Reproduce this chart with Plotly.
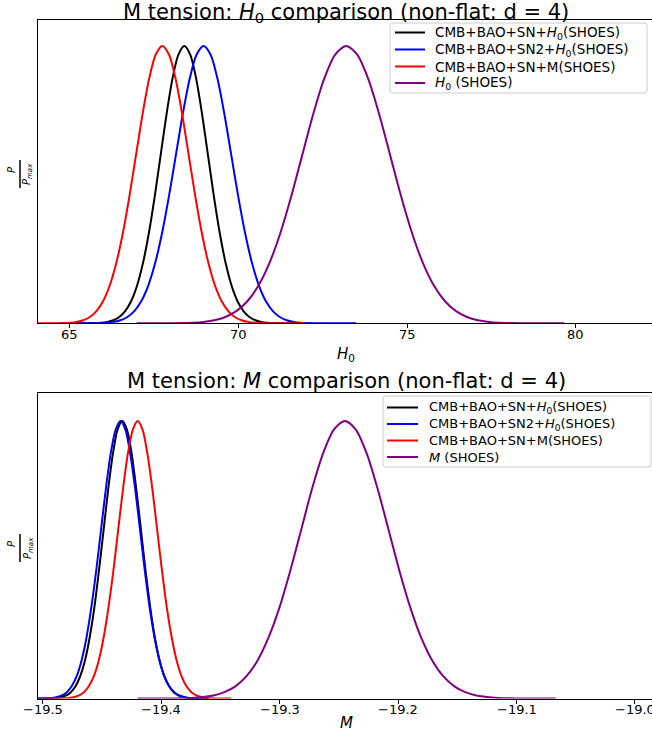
import plotly.graph_objects as go

# ---------------- data ----------------
# normalised density values P/Pmax (same sampling positions in sigma units)
p_black_top = [0, 0.0003, 0.0009, 0.0022, 0.0051, 0.0111, 0.0228, 0.0439, 0.0796, 0.1353, 0.2163, 0.3247,
               0.4578, 0.6065, 0.7548, 0.8825, 0.9692, 1.0, 0.9692, 0.8825, 0.7548, 0.6065, 0.4578, 0.3247,
               0.2163, 0.1353, 0.0796, 0.0439, 0.0228, 0.0111, 0.0051, 0.0022, 0.0009, 0.0003, 0]
p_blue_top = list(p_black_top)
p_red_top = list(p_black_top)
p_shoes_top = list(p_black_top)
p_black_bot = list(p_black_top)
p_blue_bot = list(p_black_top)
p_red_bot = list(p_black_top)
p_shoes_bot = list(p_black_top)

# Top panel: H0
h0_black_x = [65.0, 65.61, 65.785, 65.96, 66.135, 66.31, 66.485, 66.66, 66.835, 67.01, 67.185, 67.36,
              67.535, 67.71, 67.885, 68.06, 68.235, 68.41, 68.585, 68.76, 68.935, 69.11, 69.285, 69.46,
              69.635, 69.81, 69.985, 70.16, 70.335, 70.51, 70.685, 70.86, 71.035, 71.21, 71.7]
h0_blue_x = [65.0, 65.70, 65.905, 66.11, 66.315, 66.52, 66.725, 66.93, 67.135, 67.34, 67.545, 67.75,
             67.955, 68.16, 68.365, 68.57, 68.775, 68.98, 69.185, 69.39, 69.595, 69.80, 70.005, 70.21,
             70.415, 70.62, 70.825, 71.03, 71.235, 71.44, 71.645, 71.85, 72.055, 72.26, 73.5]
h0_red_x = [63.5, 64.64, 64.835, 65.03, 65.225, 65.42, 65.615, 65.81, 66.005, 66.20, 66.395, 66.59,
            66.785, 66.98, 67.175, 67.37, 67.565, 67.76, 67.955, 68.15, 68.345, 68.54, 68.735, 68.93,
            69.125, 69.32, 69.515, 69.71, 69.905, 70.10, 70.295, 70.49, 70.685, 70.88, 72.0]
h0_shoes_x = [67.0, 68.0, 68.325, 68.65, 68.975, 69.3, 69.625, 69.95, 70.275, 70.6, 70.925, 71.25,
              71.575, 71.9, 72.225, 72.55, 72.875, 73.2, 73.525, 73.85, 74.175, 74.5, 74.825, 75.15,
              75.475, 75.8, 76.125, 76.45, 76.775, 77.1, 77.425, 77.75, 78.075, 78.4, 79.65]

# Bottom panel: M
m_black_x = [-19.52, -19.4962, -19.4923, -19.4883, -19.4844, -19.4804, -19.4765, -19.4725, -19.4686, -19.4646,
             -19.4607, -19.4567, -19.4528, -19.4488, -19.4449, -19.4409, -19.4370, -19.433, -19.4291, -19.4251,
             -19.4212, -19.4172, -19.4133, -19.4093, -19.4054, -19.4014, -19.3975, -19.3935, -19.3896, -19.3856,
             -19.3817, -19.3777, -19.3738, -19.3698, -19.36]
m_blue_x = [-19.52, -19.5005, -19.4964, -19.4923, -19.4881, -19.484, -19.4799, -19.4758, -19.4716, -19.4675,
            -19.4634, -19.4593, -19.4551, -19.451, -19.4469, -19.4428, -19.4386, -19.4345, -19.4304, -19.4263,
            -19.4221, -19.418, -19.4139, -19.4098, -19.4056, -19.4015, -19.3974, -19.3933, -19.3891, -19.385,
            -19.3809, -19.3768, -19.3726, -19.3685, -19.36]
m_red_x = [-19.50, -19.486, -19.4819, -19.4778, -19.4736, -19.4695, -19.4654, -19.4613, -19.4571, -19.453,
           -19.4489, -19.4448, -19.4406, -19.4365, -19.4324, -19.4283, -19.4241, -19.42, -19.4159, -19.4118,
           -19.4076, -19.4035, -19.3994, -19.3953, -19.3911, -19.387, -19.3829, -19.3788, -19.3746, -19.3705,
           -19.3664, -19.3623, -19.3581, -19.354, -19.341]
m_shoes_x = [-19.42, -19.393, -19.3838, -19.3745, -19.3653, -19.356, -19.3468, -19.3375, -19.3283, -19.319,
             -19.3098, -19.3005, -19.2913, -19.282, -19.2728, -19.2635, -19.2543, -19.245, -19.2358, -19.2265,
             -19.2173, -19.208, -19.1988, -19.1895, -19.1803, -19.171, -19.1618, -19.1525, -19.1433, -19.134,
             -19.1248, -19.1155, -19.1063, -19.097, -19.067]

labels_top = ["CMB+BAO+SN+<i>H</i><sub>0</sub>(SHOES)",
              "CMB+BAO+SN2+<i>H</i><sub>0</sub>(SHOES)",
              "CMB+BAO+SN+M(SHOES)",
              "<i>H</i><sub>0</sub> (SHOES)"]
labels_bot = ["CMB+BAO+SN+<i>H</i><sub>0</sub>(SHOES)",
              "CMB+BAO+SN2+<i>H</i><sub>0</sub>(SHOES)",
              "CMB+BAO+SN+M(SHOES)",
              "<i>M</i> (SHOES)"]
colors = ["#000000", "#0000ff", "#ff0000", "#800080"]

h0_ticks = [65, 70, 75, 80]
h0_ticktext = ["65", "70", "75", "80"]
m_ticks = [-19.5, -19.4, -19.3, -19.2, -19.1, -19.0]
m_ticktext = ["\u221219.5", "\u221219.4", "\u221219.3", "\u221219.2", "\u221219.1", "\u221219.0"]

# ---------------- layout helpers ----------------
W, H = 652, 735
L = 38
def px(x):
    return (x - L) / (W - L)
def py(y):
    return (H - y) / H

FONT = "DejaVu Sans"

fig = go.Figure()
top_sets = [(h0_black_x, p_black_top), (h0_blue_x, p_blue_top), (h0_red_x, p_red_top), (h0_shoes_x, p_shoes_top)]
bot_sets = [(m_black_x, p_black_bot), (m_blue_x, p_blue_bot), (m_red_x, p_red_bot), (m_shoes_x, p_shoes_bot)]
for (x, p), name, c in zip(top_sets, labels_top, colors):
    fig.add_trace(go.Scatter(x=x, y=p, mode="lines", name=name, showlegend=False,
                             line=dict(color=c, width=2, shape="spline", smoothing=0.8),
                             xaxis="x", yaxis="y"))
for (x, p), name, c in zip(bot_sets, labels_bot, colors):
    fig.add_trace(go.Scatter(x=x, y=p, mode="lines", name=name, showlegend=False,
                             line=dict(color=c, width=2, shape="spline", smoothing=0.8),
                             xaxis="x2", yaxis="y2"))

axis_common = dict(showline=True, linecolor="black", linewidth=1.2, mirror=True, showgrid=False, zeroline=False)
TOP_T, TOP_B = 20, 323.3
BOT_T, BOT_B = 393, 698.5
fig.update_layout(
    width=W, height=H,
    margin=dict(l=L, r=0, t=0, b=0),
    paper_bgcolor="white", plot_bgcolor="white",
    font=dict(family=FONT, color="black"),
    showlegend=False,
    xaxis=dict(domain=[0, 1], anchor="y", range=[64.08, 82.25], tickvals=h0_ticks, showticklabels=False,
               ticks="outside", ticklen=4, tickcolor="black", **axis_common),
    yaxis=dict(domain=[py(TOP_B), py(TOP_T)], anchor="x", range=[0, (TOP_B - TOP_T) / 277.3],
               showticklabels=False, ticks="", **axis_common),
    xaxis2=dict(domain=[0, 1], anchor="y2", range=[-19.5042, -18.9856], tickvals=m_ticks, showticklabels=False,
                ticks="outside", ticklen=4, tickcolor="black", **axis_common),
    yaxis2=dict(domain=[py(BOT_B), py(BOT_T)], anchor="x2", range=[0, (BOT_B - BOT_T) / 277.5],
                showticklabels=False, ticks="", **axis_common),
)

ann = []
shapes = []
# titles
ann.append(dict(text="M tension: <i>H</i><sub>0</sub> comparison (non-flat: d = 4)", x=px(346), y=py(13.5),
                xref="paper", yref="paper", showarrow=False, font=dict(size=21, family=FONT),
                xanchor="center", yanchor="middle"))
ann.append(dict(text="M tension: <i>M</i> comparison (non-flat: d = 4)", x=px(346), y=py(381),
                xref="paper", yref="paper", showarrow=False, font=dict(size=21, family=FONT),
                xanchor="center", yanchor="middle"))
# tick labels (placed through the axis scales)
for v, t in zip(h0_ticks, h0_ticktext):
    ann.append(dict(text=t, x=v, xref="x", y=py(335), yref="paper", showarrow=False,
                    font=dict(size=13, family=FONT), xanchor="center", yanchor="middle"))
for v, t in zip(m_ticks, m_ticktext):
    ann.append(dict(text=t, x=v, xref="x2", y=py(709), yref="paper", showarrow=False,
                    font=dict(size=13, family=FONT), xanchor="center", yanchor="middle"))
# x labels
ann.append(dict(text="<i>H</i><sub>0</sub>", x=px(346), y=py(354), xref="paper", yref="paper", showarrow=False,
                font=dict(size=15, family=FONT), xanchor="center", yanchor="middle"))
ann.append(dict(text="<i>M</i>", x=px(346), y=py(723), xref="paper", yref="paper", showarrow=False,
                font=dict(size=15, family=FONT), xanchor="center", yanchor="middle"))
# y labels: P / P_max fraction, rotated
for yc in (174, 548):
    ann.append(dict(text="<i>P</i>", x=px(11), y=py(yc - 4), xref="paper", yref="paper", showarrow=False,
                    textangle=-90, font=dict(size=10, family=FONT), xanchor="center", yanchor="middle"))
    ann.append(dict(text="<i>P<sub>max</sub></i>", x=px(28), y=py(yc), xref="paper", yref="paper", showarrow=False,
                    textangle=-90, font=dict(size=10, family=FONT), xanchor="center", yanchor="middle"))
    shapes.append(dict(type="line", xref="paper", yref="paper", x0=px(20), x1=px(20), y0=py(yc - 14), y1=py(yc + 14),
                       line=dict(color="black", width=1.5)))

# legends (matplotlib style: rounded light-grey frame, 30px line samples)
def add_legend(labels, box, line_x0, line_x1, text_x, row_y, fsize):
    bx0, by0, bx1, by1 = box
    r = 3
    path = (f"M {px(bx0 + r)},{py(by0)} L {px(bx1 - r)},{py(by0)} Q {px(bx1)},{py(by0)} {px(bx1)},{py(by0 + r)} "
            f"L {px(bx1)},{py(by1 - r)} Q {px(bx1)},{py(by1)} {px(bx1 - r)},{py(by1)} "
            f"L {px(bx0 + r)},{py(by1)} Q {px(bx0)},{py(by1)} {px(bx0)},{py(by1 - r)} "
            f"L {px(bx0)},{py(by0 + r)} Q {px(bx0)},{py(by0)} {px(bx0 + r)},{py(by0)} Z")
    shapes.append(dict(type="path", path=path, xref="paper", yref="paper",
                       line=dict(color="#cccccc", width=1), fillcolor="rgba(255,255,255,0.8)", layer="above"))
    for lab, c, yy in zip(labels, colors, row_y):
        shapes.append(dict(type="line", xref="paper", yref="paper", x0=px(line_x0), x1=px(line_x1),
                           y0=py(yy), y1=py(yy), line=dict(color=c, width=2), layer="above"))
        ann.append(dict(text=lab, x=px(text_x), y=py(yy), xref="paper", yref="paper", showarrow=False,
                        font=dict(size=fsize, family=FONT), xanchor="left", yanchor="middle"))

add_legend(labels_top, (390, 23, 647, 93), 395, 425, 433, [32.5, 49.5, 66.5, 83], 13.5)
add_legend(labels_bot, (383, 396, 651, 467), 387, 418, 427, [407.5, 424, 440.5, 457], 13)

fig.update_layout(annotations=ann, shapes=shapes)

fig.write_html("out.html")
